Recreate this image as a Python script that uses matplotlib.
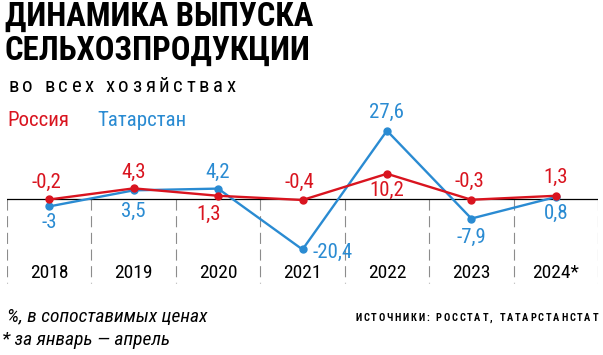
import matplotlib
matplotlib.use("Agg")
import matplotlib.pyplot as plt

years = ["2018", "2019", "2020", "2021", "2022", "2023", "2024*"]
russia = [-0.2, 4.3, 1.3, -0.4, 10.2, -0.3, 1.3]
tatarstan = [-3.0, 3.5, 4.2, -20.4, 27.6, -7.9, 0.8]

# label offsets in pixels (dx, dy), dy positive = up
russia_off = [(-3, 17), (0, 16), (-9, -19), (-3, 18), (0, -17), (-2, 18), (0, 18)]
tatar_off = [(0, -16), (0, -21), (0, 16), (30, -3), (0, 18), (0, -19), (0, -16)]

RED = "#d9141f"
BLUE = "#2a8bd2"
FONT = ["Liberation Sans Narrow", "Roboto Condensed", "Roboto", "DejaVu Sans"]
plt.rcParams["font.family"] = FONT

W, H = 603, 355
fig = plt.figure(figsize=(W / 100, H / 100), dpi=100)


def px(x, y):
    return x / W, 1 - y / H


def spaced(x, y, s, gap, space_w, align="left", **kw):
    # draw text letter by letter to get wide tracking
    r = fig.canvas.get_renderer()
    widths = []
    for ch in s:
        if ch == " ":
            widths.append(space_w)
            continue
        t = fig.text(0, 0, ch, **kw)
        widths.append(t.get_window_extent(r).width + gap)
        t.remove()
    total = sum(widths) - gap
    if align == "right":
        x -= total
    for ch, w in zip(s, widths):
        if ch != " ":
            fig.text(*px(x, y), ch, ha="left", va="center", **kw)
        x += w


# title block
fig.text(*px(5, 17), "ДИНАМИКА ВЫПУСКА", fontsize=23.5, fontweight="bold",
         va="center", ha="left")
fig.text(*px(5, 51), "СЕЛЬХОЗПРОДУКЦИИ", fontsize=23.5, fontweight="bold",
         va="center", ha="left")
spaced(8, 87, "во всех хозяйствах", 3.6, 8, fontsize=15)

# legend
fig.text(*px(7, 120), "Россия", color=RED, fontsize=15, va="center")
fig.text(*px(97, 120), "Татарстан", color=BLUE, fontsize=15, va="center")

# chart area
top, bottom = 100, 290
ax = fig.add_axes([7 / W, 1 - bottom / H, 591 / W, (bottom - top) / H])
scale = 2.475  # px per unit
zero_px = 199
ax.set_ylim(-(bottom - zero_px) / scale, (zero_px - top) / scale)
ax.set_xlim(-0.5, len(years) - 0.5)
ax.axis("off")

ax.axhline(0, color="black", lw=0.9, zorder=1)
for i in range(len(years) + 1):
    ax.plot([i - 0.5, i - 0.5], [0, -(283 - zero_px) / scale], color="#8c8c8c",
            lw=0.8, dashes=(10, 5), zorder=0)

xs = list(range(len(years)))
ax.plot(xs, tatarstan, color=BLUE, lw=1.7, marker="o", ms=5, zorder=3)
ax.plot(xs, russia, color=RED, lw=1.7, marker="o", ms=5, zorder=4)


def fmt(v):
    return f"{v:g}".replace(".", ",")


for vals, offs, col in [(russia, russia_off, RED), (tatarstan, tatar_off, BLUE)]:
    for i, (v, (dx, dy)) in enumerate(zip(vals, offs)):
        ax.annotate(fmt(v), (i, v), xytext=(dx * 0.72, dy * 0.72),
                    textcoords="offset points", ha="center", va="center",
                    color=col, fontsize=15)

for i, y in enumerate(years):
    ax.text(i, -(273 - zero_px) / scale, y, ha="center", va="center",
            fontsize=14, color="black")

# footer
fig.text(*px(7, 317), "%, в сопоставимых ценах", fontsize=14, style="italic",
         va="center")
fig.text(*px(2, 340), "* за январь — апрель", fontsize=14, style="italic",
         va="center")
spaced(598, 318, "ИСТОЧНИКИ: РОССТАТ, ТАТАРСТАНСТАТ", 1.8, 5, align="right",
       fontsize=7.5, fontweight="bold")

fig.savefig("out.png", dpi=100)
